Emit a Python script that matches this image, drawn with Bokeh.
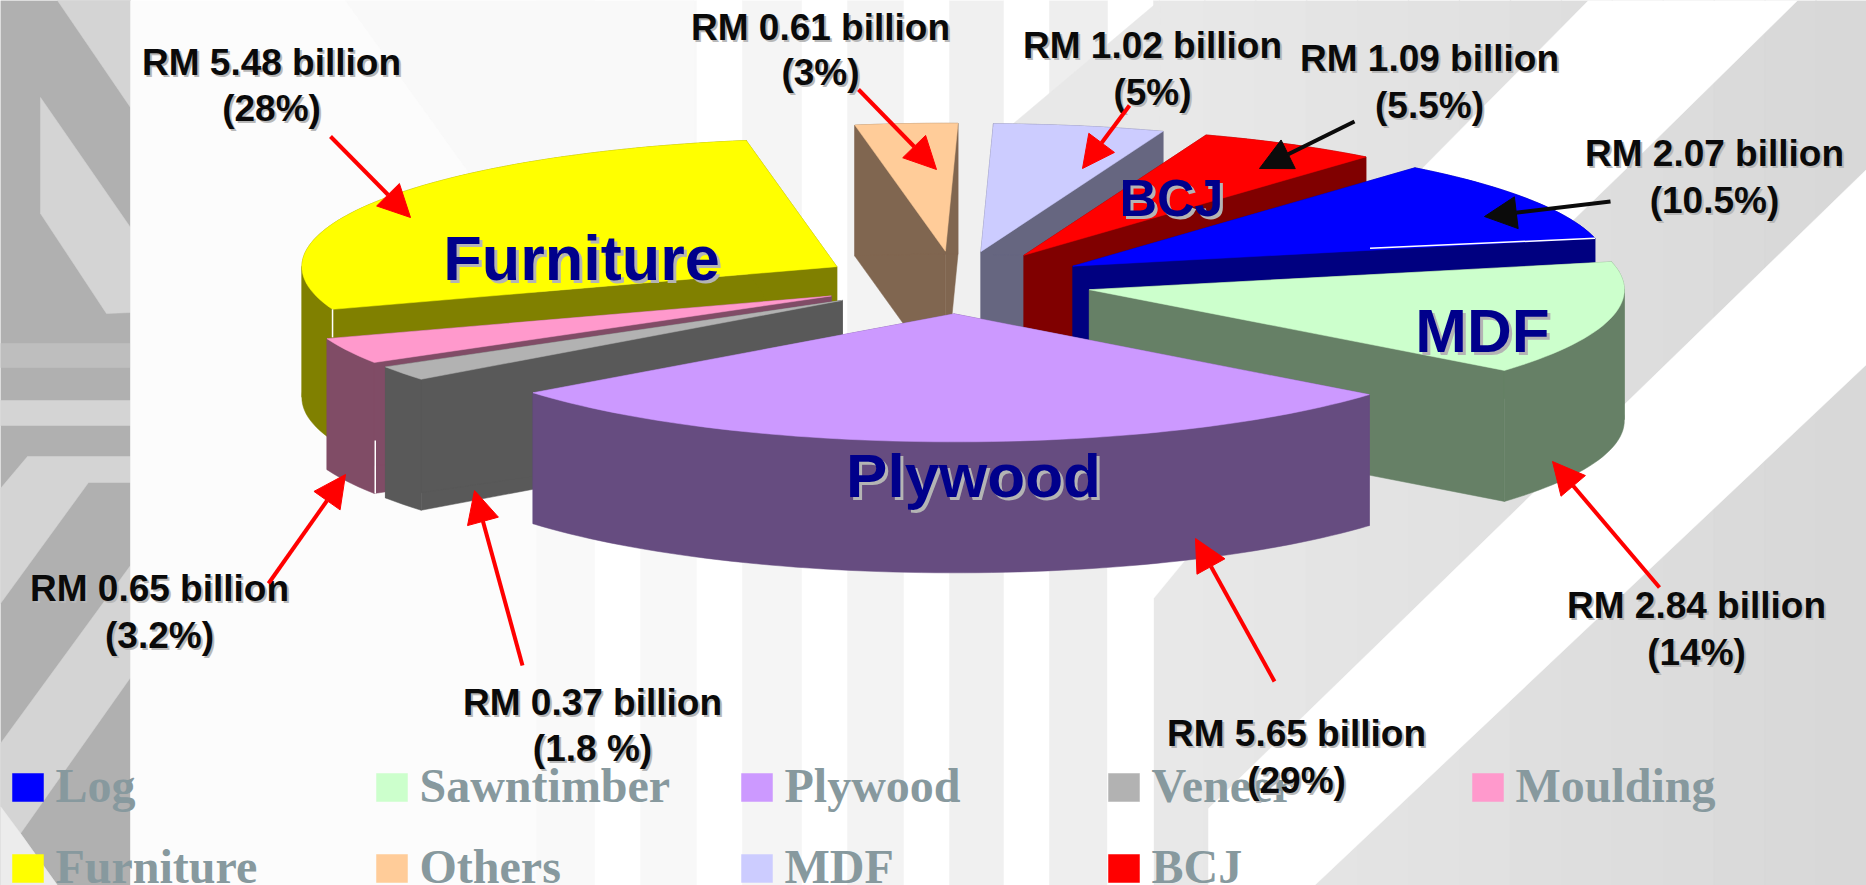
import math
from bokeh.plotting import figure
from bokeh.models import Arrow, NormalHead
from bokeh.core.properties import value
from bokeh.embed import file_html
from bokeh.resources import INLINE

# ---------- data ----------
categories = ["Log", "Sawntimber", "Plywood", "Veneer", "Moulding", "Furniture", "Others", "MDF", "BCJ"]
billions = [2.07, 2.84, 5.65, 0.37, 0.65, 5.48, 0.61, 1.02, 1.09]
percents = ["10.5%", "14%", "29%", "1.8 %", "3.2%", "28%", "3%", "5%", "5.5%"]
top_colors = ["#0000FF", "#CCFFCC", "#CC99FF", "#B2B2B2", "#FF99CC", "#FFFF00", "#FFCC99", "#CCCCFF", "#FF0000"]
side_colors = ["#000080", "#668066", "#664C80", "#595959", "#804C66", "#808000", "#806650", "#666680", "#800000"]

# ---------- layout ----------
W, H = 1866, 885
CX, CY, RX, RY = 955, 282, 535, 128
EXPLODE_X, EXPLODE_Y, DEPTH, FIRST_ANGLE = 0.257, 0.245, 131, 50.25
DRAW_ORDER = ["Others", "MDF", "BCJ", "Log", "Sawntimber", "Furniture", "Moulding", "Veneer", "Plywood"]
LABEL_POS = {"Log": (1714, 153, 200), "Sawntimber": (1696, 605, 652), "Plywood": (1296, 733, 780),
             "Veneer": (592, 702, 748), "Moulding": (159, 588, 635), "Furniture": (271, 62, 108),
             "Others": (820, 27, 72), "MDF": (1152, 45, 92), "BCJ": (1429, 58, 105)}
ARROWS = {"Log": (1610, 201, 1484, 216, "#0B0B0B"), "Sawntimber": (1659, 587, 1552, 461, "#FF0000"),
          "Plywood": (1274, 681, 1195, 538, "#FF0000"), "Veneer": (522, 665, 474, 490, "#FF0000"),
          "Moulding": (268, 583, 345, 474, "#FF0000"), "Furniture": (330, 136, 410, 217, "#FF0000"),
          "Others": (858, 89, 936, 169, "#FF0000"), "MDF": (1129, 105, 1082, 168, "#FF0000"),
          "BCJ": (1354, 121, 1259, 168, "#0B0B0B")}
SLICE_NAMES = [("Furniture", 581, 257, 63), ("MDF", 1482, 330, 62), ("BCJ", 1171, 197, 52), ("Plywood", 973, 475, 62)]
LEGEND_COLS = [12, 376, 741, 1108, 1472]
LEGEND_ROWS = [773, 854]
LEGEND_ROW_OF = [0, 0, 0, 0, 0, 1, 1, 1, 1]
LEGEND_COL_OF = [0, 1, 2, 3, 4, 0, 1, 2, 3]

p = figure(width=W, height=H, x_range=(0, W), y_range=(H, 0), output_backend="svg",
           toolbar_location=None, min_border=0, outline_line_color=None, background_fill_color="#FFFFFF")
p.axis.visible = False
p.grid.visible = False


def poly(pts, color):
    p.patch([a for a, _ in pts], [b for _, b in pts], fill_color=color, line_color=color, line_width=0.5)


# ---------- background ----------
poly([(0, 0), (130, 0), (130, 885), (0, 885)], "#B0B0B0")
LIGHT = "#D4D4D4"
poly([(57, 0), (130, 0), (130, 107)], LIGHT)
poly([(40, 97), (130, 227), (130, 312), (106, 313), (40, 213)], LIGHT)
poly([(0, 343), (130, 343), (130, 367), (0, 367)], "#BEBEBE")
poly([(0, 400), (130, 400), (130, 425), (0, 425)], LIGHT)
poly([(27, 456), (130, 456), (130, 482), (88, 482), (0, 603), (0, 488)], LIGHT)
poly([(130, 565), (0, 743), (0, 885), (57, 885), (20, 833), (130, 677)], LIGHT)
poly([(0, 806), (20, 833), (57, 885), (0, 885)], "#ECECEC")
poly([(130, 0), (594, 0), (594, 885), (130, 885)], "#FCFCFC")
for x0, x1, c in [(536, 594, "#F9F9F9"), (640, 696, "#F8F8F8"), (742, 801, "#F5F5F5"), (847, 903, "#F3F3F3"),
                  (949, 1003, "#F0F0F0"), (1049, 1107, "#EEEEEE")]:
    poly([(x0, 0), (x1, 0), (x1, 885), (x0, 885)], c)
poly([(345, 0), (693, 0), (693, 300), (560, 300)], "#F9F9F9")
# grey field on the right: stepped horizontal fade
n = 14
for i in range(n):
    x0 = 1153 + (1866 - 1153) * i / n
    x1 = 1153 + (1866 - 1153) * (i + 1) / n + 1
    g = round(232 - 16 * i / (n - 1))
    poly([(x0, 0), (x1, 0), (x1, 885), (x0, 885)], "#%02X%02X%02X" % (g, g, g))
poly([(1013, 123), (1159, 0), (1160, 140), (1013, 140)], "#E8E8E8")
poly([(1107, 480), (1250, 480), (1153, 598), (1153, 885), (1107, 885)], "#FFFFFF")
poly([(1866, 169), (1208, 808), (1208, 885), (1314, 885), (1866, 364)], "#FFFFFF")
poly([(1588, 0), (1797, 0), (1627, 167), (1500, 290), (1400, 190)], "#FFFFFF")

# ---------- exploded pseudo-3D pie ----------
total = sum(billions)
angles = {}
a = FIRST_ANGLE
for name, v in zip(categories, billions):
    b = a - v / total * 360
    angles[name] = (a, b)
    a = b

rims = {}
for name in DRAW_ORDER:
    i = categories.index(name)
    a0, a1 = angles[name]
    mid = math.radians((a0 + a1) / 2)
    ox = CX + EXPLODE_X * RX * math.cos(mid)
    oy = CY - EXPLODE_Y * RY * math.sin(mid)
    steps = max(3, int((a0 - a1) / 1.5))
    rim = [(ox + RX * math.cos(math.radians(a0 + (a1 - a0) * k / steps)),
            oy - RY * math.sin(math.radians(a0 + (a1 - a0) * k / steps))) for k in range(steps + 1)]
    rims[name] = rim
    apex = (ox, oy)
    drop = lambda pt: (pt[0], pt[1] + DEPTH)
    # the two radial walls
    for end in (rim[0], rim[-1]):
        poly([apex, end, drop(end), drop(apex)], side_colors[i])
    # outer wall, split where the rim turns back in x so the shape never folds over itself
    run = [rim[0]]
    for k in range(1, len(rim)):
        if len(run) > 1 and (run[-1][0] - run[-2][0]) * (rim[k][0] - run[-1][0]) < 0:
            poly(run + [drop(q) for q in reversed(run)], side_colors[i])
            run = [run[-1]]
        run.append(rim[k])
    poly(run + [drop(q) for q in reversed(run)], side_colors[i])
    poly([apex] + rim, top_colors[i])

# thin white seams seen along some wedge edges
lg = rims["Log"][-1]
p.line([lg[0] - 225, lg[0]], [lg[1] + 10, lg[1]], line_color="#FFFFFF", line_width=1.5)
fu = rims["Furniture"][0]
p.line([fu[0], fu[0]], [fu[1], fu[1] + 28], line_color="#FFFFFF", line_width=1.5)
mo = rims["Moulding"][0]
p.line([mo[0] + 1, mo[0] + 1], [mo[1] + 78, mo[1] + 131], line_color="#FFFFFF", line_width=1.5)

# ---------- legend ----------
for i, name in enumerate(categories):
    x = LEGEND_COLS[LEGEND_COL_OF[i]]
    y = LEGEND_ROWS[LEGEND_ROW_OF[i]]
    poly([(x, y), (x + 31, y), (x + 31, y + 28), (x, y + 28)], top_colors[i])
    p.text([x + 43], [y + 12], text=[name], text_font=value("Liberation Serif"), text_font_style="bold",
           text_font_size="48px", text_color="#87999E", text_align="left", text_baseline="middle")

# ---------- names on the slices ----------
for s, x, y, size in SLICE_NAMES:
    for dx, c in [(3, "#B4B4B4"), (0, "#00008B")]:
        p.text([x + dx], [y + dx], text=[s], text_font=value("Liberation Sans"), text_font_style="bold",
               text_font_size=f"{size}px", text_color=c, text_align="center", text_baseline="middle")

# ---------- value labels and arrows ----------
for name, v, pct in zip(categories, billions, percents):
    x0, y0, x1, y1, c = ARROWS[name]
    p.add_layout(Arrow(end=NormalHead(size=32, fill_color=c, line_color=c), x_start=x0, y_start=y0,
                       x_end=x1, y_end=y1, line_color=c, line_width=4))
    lx, ly1, ly2 = LABEL_POS[name]
    for t, yy in [(f"RM {v:.2f} billion", ly1), (f"({pct})", ly2)]:
        for dx, col in [(2, "#B8B8B8"), (0, "#0A0A0A")]:
            p.text([lx + dx], [yy + dx], text=[t], text_font=value("Liberation Sans"), text_font_style="bold",
                   text_font_size="37px", text_color=col, text_align="center", text_baseline="middle")

open("out.html", "w").write(file_html(p, INLINE))
